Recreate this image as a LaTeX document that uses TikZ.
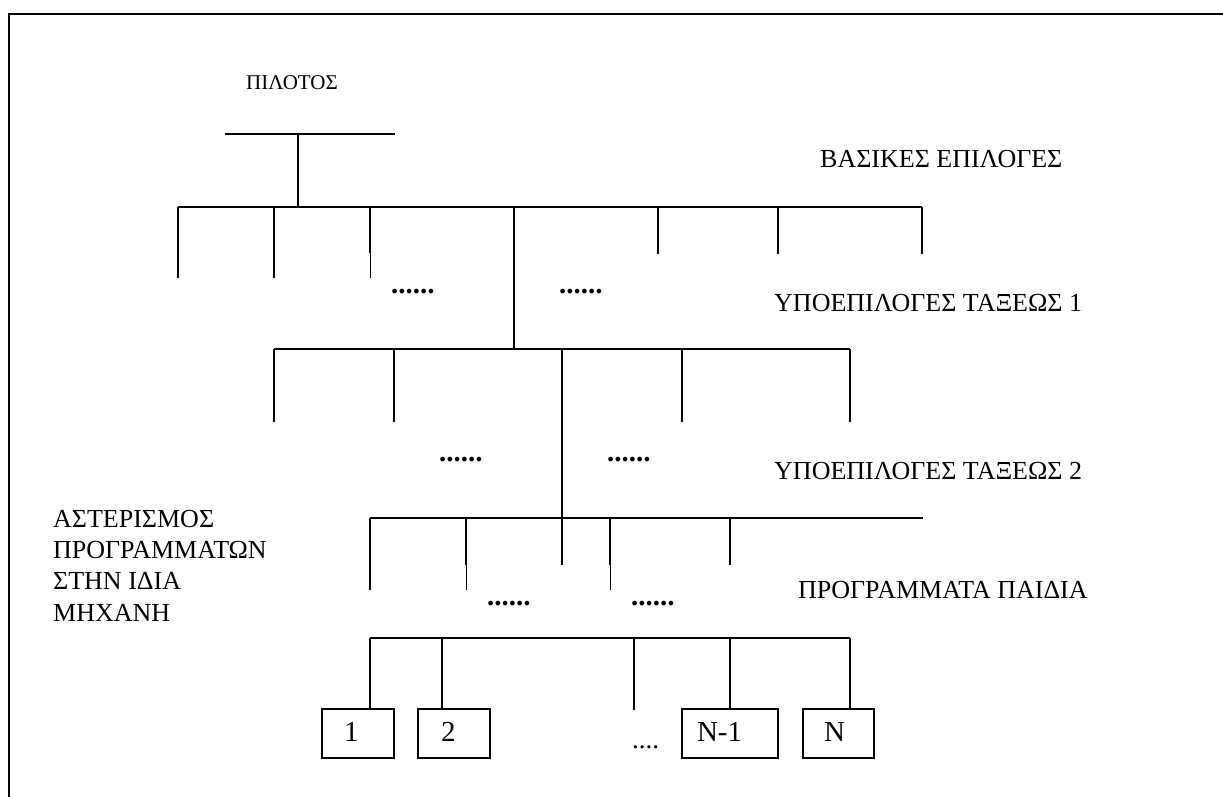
\documentclass[tikz,border=0pt]{standalone}
\usepackage{fontspec}
\setmainfont{Liberation Serif}
\begin{document}
\begin{tikzpicture}[x=1pt,y=-1pt,
  frame/.style={line width=2.6pt},
  branch/.style={line width=1.7pt},
  twig/.style={line width=0.9pt},
  lbl/.style={anchor=base west,inner sep=0pt,font=\fontsize{26}{31}\selectfont},
  small/.style={anchor=base,inner sep=0pt,font=\fontsize{21}{25}\selectfont},
  dots/.style={anchor=base west,inner sep=0pt,font=\bfseries\fontsize{29}{31}\selectfont},
  leaf/.style={draw,line width=1.7pt,rectangle,minimum height=49pt,align=left,
    inner ysep=0pt,text height=19pt,text depth=3pt,font=\fontsize{29}{31}\selectfont}]
\useasboundingbox (0,0) rectangle (1223,797);

% outer frame (open to the right and bottom)
\coordinate (fb) at (9,797);
\coordinate (fc) at (9,14);
\coordinate (fr) at (1223,14);
\draw[frame] (fb) -- (fc) -- (fr);

% labels
\node[small] (pilot) at (292,90) {ΠΙΛΟΤΟΣ};
\node[lbl] (basic) at (820,167) {ΒΑΣΙΚΕΣ ΕΠΙΛΟΓΕΣ};
\node[lbl] (sub1) at (774,311) {ΥΠΟΕΠΙΛΟΓΕΣ ΤΑΞΕΩΣ 1};
\node[lbl] (sub2) at (774,479) {ΥΠΟΕΠΙΛΟΓΕΣ ΤΑΞΕΩΣ 2};
\node[lbl] (kids) at (798,598) {ΠΡΟΓΡΑΜΜΑΤΑ ΠΑΙΔΙΑ};
\node[lbl] (cl1) at (53,527) {ΑΣΤΕΡΙΣΜΟΣ};
\node[lbl] (cl2) at (53,558) {ΠΡΟΓΡΑΜΜΑΤΩΝ};
\node[lbl] (cl3) at (53,589) {ΣΤΗΝ ΙΔΙΑ};
\node[lbl] (cl4) at (53,621) {ΜΗΧΑΝΗ};

% pilot bar
\coordinate (tl) at (225,134);
\coordinate (tr) at (395,134);
\coordinate (tm) at (298,134);
\draw[branch] (tl) -- (tr);

% level 1
\coordinate (a1) at (178,207);
\coordinate (a2) at (274,207);
\coordinate (a3) at (370,207);
\coordinate (am) at (298,207);
\coordinate (a4) at (514,207);
\coordinate (a5) at (658,207);
\coordinate (a6) at (778,207);
\coordinate (a7) at (922,207);
\draw[branch] (tm) -- (am);
\draw[branch] (a1) -- (a7);
\coordinate (a1e) at (178,278);
\coordinate (a2e) at (274,278);
\coordinate (a3k) at (370,253);
\coordinate (a3e) at (370,278);
\coordinate (a5e) at (658,254);
\coordinate (a6e) at (778,254);
\coordinate (a7e) at (922,254);
\draw[branch] (a1) -- (a1e);
\draw[branch] (a2) -- (a2e);
\draw[branch] (a3) -- (a3k);
\draw[twig] (a3k) -- (a3e);
\draw[branch] (a5) -- (a5e);
\draw[branch] (a6) -- (a6e);
\draw[branch] (a7) -- (a7e);
\node[dots] (d1a) at (391,293) {......};
\node[dots] (d1b) at (559,293) {......};

% level 2
\coordinate (b1) at (274,349);
\coordinate (b2) at (394,349);
\coordinate (bm) at (514,349);
\coordinate (b3) at (562,349);
\coordinate (b4) at (682,349);
\coordinate (b5) at (850,349);
\draw[branch] (a4) -- (bm);
\draw[branch] (b1) -- (b5);
\foreach \p in {b1,b2,b4,b5}
  \draw[branch] (\p) -- ++(0,73);
\node[dots] (d2a) at (439,461) {......};
\node[dots] (d2b) at (607,461) {......};

% level 3
\coordinate (c1) at (370,518);
\coordinate (c2) at (466,518);
\coordinate (c3) at (562,518);
\coordinate (c4) at (610,518);
\coordinate (c5) at (730,518);
\coordinate (c6) at (923,518);
\draw[branch] (b3) -- (c3);
\draw[branch] (c1) -- (c6);
\draw[branch] (c1) -- ++(0,72);
\draw[branch] (c2) -- ++(0,47) coordinate (c2k);
\draw[twig] (c2k) -- ++(0,25);
\draw[branch] (c3) -- ++(0,47);
\draw[branch] (c4) -- ++(0,47) coordinate (c4k);
\draw[twig] (c4k) -- ++(0,25);
\draw[branch] (c5) -- ++(0,47);
\node[dots] (d3a) at (487,605) {......};
\node[dots] (d3b) at (631,605) {......};

% level 4: the programs
\node[leaf,text width=28pt,inner xsep=22pt] (p1) at (358,733.5) {1};
\node[leaf,text width=26pt,inner xsep=23pt] (p2) at (454,733.5) {2};
\node[leaf,text width=66pt,inner xsep=15pt] (p3) at (730,733.5) {N-1};
\node[leaf,text width=29pt,inner xsep=21pt] (p4) at (838.5,733.5) {N};
\node[anchor=base west,inner sep=0pt,font=\fontsize{27}{31}\selectfont] (d4) at (632,748) {....};
\coordinate (e1) at (370,638);
\coordinate (e2) at (442,638);
\coordinate (e3) at (634,638);
\coordinate (e4) at (730,638);
\coordinate (e5) at (850,638);
\draw[branch] (e1) -- (e5);
\draw[branch] (e1) -- (e1 |- p1.north);
\draw[branch] (e2) -- (e2 |- p2.north);
\draw[branch] (e3) -- ++(0,72);
\draw[branch] (e4) -- (e4 |- p3.north);
\draw[branch] (e5) -- (e5 |- p4.north);
\end{tikzpicture}
\end{document}
